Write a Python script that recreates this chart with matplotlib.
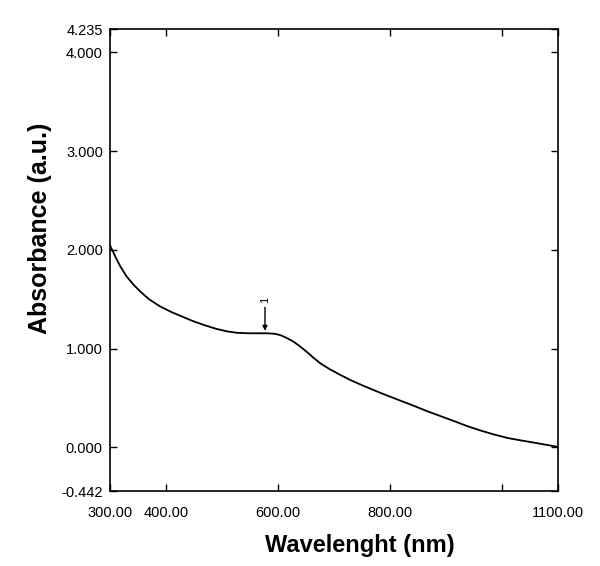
import matplotlib
matplotlib.use("Agg")
import matplotlib.pyplot as plt

plt.rcParams["font.family"] = ["Liberation Sans", "DejaVu Sans"]

# spectrum
wavelength = [300, 305, 310, 318, 330, 342, 354, 370, 389, 410, 431, 450, 473, 490,
              509, 527, 550, 581, 595, 605, 615, 628, 640, 652, 664, 676, 693, 711,
              730, 752, 773, 795, 820, 843, 867, 891, 915, 938, 962, 986, 1010, 1034,
              1060, 1080, 1100]
absorbance = [2.05, 1.99, 1.93, 1.84, 1.73, 1.65, 1.58, 1.50, 1.43, 1.37, 1.32, 1.275,
              1.23, 1.20, 1.175, 1.16, 1.155, 1.155, 1.15, 1.135, 1.11, 1.07, 1.02,
              0.965, 0.905, 0.85, 0.79, 0.735, 0.68, 0.625, 0.575, 0.525, 0.47, 0.42,
              0.365, 0.315, 0.265, 0.215, 0.17, 0.13, 0.095, 0.07, 0.045, 0.025, 0.005]

x_ticks = [300, 400, 600, 800, 1000, 1100]
x_labels = ["300.00", "400.00", "600.00", "800.00", "", "1100.00"]
y_ticks = [-0.442, 0, 1, 2, 3, 4, 4.235]
y_labels = ["-0.442", "0.000", "1.000", "2.000", "3.000", "4.000", "4.235"]

peak_x, peak_y = 577, 1.16

fig = plt.figure(figsize=(6, 5.66), dpi=100)
ax = fig.add_axes([0.183, 0.1325, 0.747, 0.816])

ax.plot(wavelength, absorbance, color="black", lw=1.3)

ax.annotate("1", xy=(peak_x, peak_y + 0.02), xytext=(peak_x, peak_y + 0.3),
            ha="center", va="bottom", rotation=90, fontsize=8,
            arrowprops=dict(arrowstyle="-|>", color="black", lw=1, mutation_scale=7,
                            shrinkA=1, shrinkB=0))

ax.set_xlim(300, 1100)
ax.set_ylim(-0.442, 4.235)
ax.set_xticks(x_ticks)
ax.set_xticklabels(x_labels)
ax.set_yticks(y_ticks)
ax.set_yticklabels(y_labels)
ax.tick_params(axis="both", direction="in", length=5, width=1, labelsize=10.5,
               top=True, right=True)
ax.tick_params(axis="x", pad=11)
ax.tick_params(axis="y", pad=5)
for s in ax.spines.values():
    s.set_linewidth(1.2)

ax.set_xlabel("Wavelenght (nm)", fontsize=17, fontweight="bold", va="center")
ax.set_ylabel("Absorbance (a.u.)", fontsize=18, fontweight="bold", va="center", ha="center")
ax.xaxis.set_label_coords(0.558, -0.119)
ax.yaxis.set_label_coords(-0.156, 0.569)

fig.savefig("out.png", dpi=100)
